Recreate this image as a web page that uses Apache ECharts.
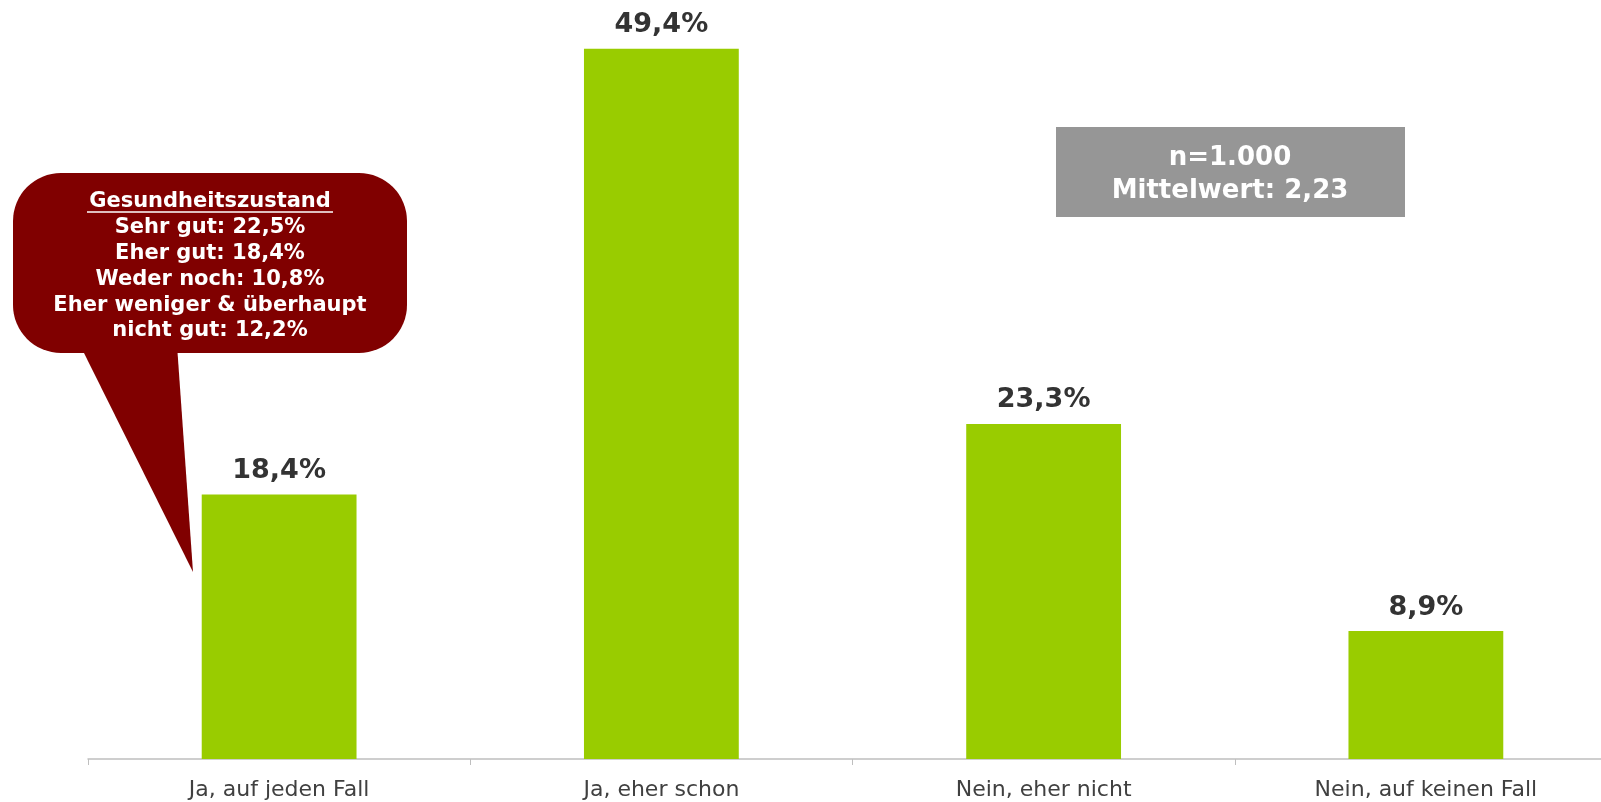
<!DOCTYPE html>
<html>
<head>
<meta charset="utf-8">
<script src="https://cdn.jsdelivr.net/npm/echarts@6/dist/echarts.min.js"></script>
<style>
  html, body { margin: 0; padding: 0; background: #ffffff; overflow: hidden; }
  #chart { width: 1617px; height: 802px; }
</style>
</head>
<body>
<div id="chart"></div>
<script>
// ---- data ----
const categories = ['Ja, auf jeden Fall', 'Ja, eher schon', 'Nein, eher nicht', 'Nein, auf keinen Fall'];
const values = [18.4, 49.4, 23.3, 8.9];
const calloutTitle = 'Gesundheitszustand';
const calloutLines = ['Sehr gut: 22,5%', 'Eher gut: 18,4%', 'Weder noch: 10,8%', 'Eher weniger & überhaupt', 'nicht gut: 12,2%'];
const infoLines = ['n=1.000', 'Mittelwert: 2,23'];

// ---- chart ----
const chart = echarts.init(document.getElementById('chart'));
const FONT = '"DejaVu Sans", Verdana, sans-serif';

const calloutX = 210, calloutTop = 202, calloutStep = 25.8;
const graphics = [
  { type: 'rect', shape: { x: 13, y: 173, width: 394, height: 180, r: [48, 48, 48, 48] }, style: { fill: '#800000' }, z: 10 },
  { type: 'polygon', shape: { points: [[80, 345], [177, 345], [193, 572]] }, style: { fill: '#800000' }, z: 10 },
  { type: 'text', x: calloutX, y: calloutTop, z: 11,
    style: { text: calloutTitle, fill: '#ffffff', font: 'bold 21px ' + FONT, align: 'center', verticalAlign: 'middle' } },
  { type: 'line', z: 11, shape: { x1: 87, y1: 212, x2: 333, y2: 212 }, style: { stroke: '#ffffff', lineWidth: 1.5 } }
];
calloutLines.forEach((t, i) => {
  graphics.push({ type: 'text', x: calloutX, y: calloutTop + (i + 1) * calloutStep, z: 11,
    style: { text: t, fill: '#ffffff', font: 'bold 21px ' + FONT, align: 'center', verticalAlign: 'middle' } });
});
graphics.push({ type: 'rect', shape: { x: 1056, y: 127, width: 349, height: 90 }, style: { fill: '#969696' }, z: 10 });
infoLines.forEach((t, i) => {
  graphics.push({ type: 'text', x: 1230, y: 158 + i * 33, z: 11,
    style: { text: t, fill: '#ffffff', font: 'bold 26px ' + FONT, align: 'center', verticalAlign: 'middle' } });
});

chart.setOption({
  animation: false,
  backgroundColor: '#ffffff',
  grid: { left: 88, right: 0, top: 40, bottom: 43 },
  xAxis: {
    type: 'category',
    data: categories,
    axisLine: { lineStyle: { color: '#bfbfbf', width: 1.5 } },
    axisTick: { show: true, length: 6, lineStyle: { color: '#bfbfbf' } },
    axisLabel: { color: '#404040', fontSize: 22, fontFamily: FONT, margin: 20 }
  },
  yAxis: {
    type: 'value', min: 0, max: 50, interval: 10,
    show: false,
    splitLine: { show: false }
  },
  series: [{
    type: 'bar',
    data: values,
    barWidth: '40.5%',
    itemStyle: { color: '#99cc00' },
    label: {
      show: true, position: 'top', distance: 10,
      color: '#333333', fontSize: 27, fontWeight: 'bold', fontFamily: FONT,
      formatter: p => p.value.toFixed(1).replace('.', ',') + '%'
    }
  }],
  graphic: graphics
});
</script>
</body>
</html>
